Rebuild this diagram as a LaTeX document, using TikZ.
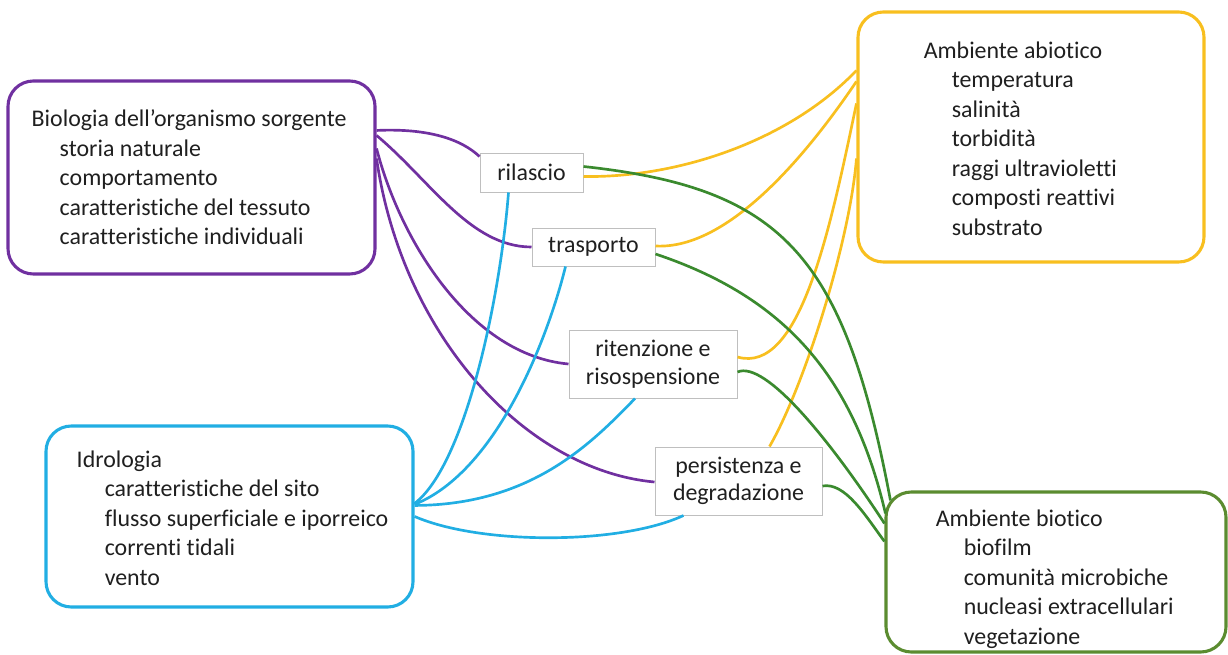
\documentclass[tikz,border=0pt]{standalone}
\usepackage{fontspec}
\setmainfont{Carlito}[Ligatures={TeX,NoCommon}]
\usepackage{xcolor}
\usepackage{tikz}
\usetikzlibrary{positioning,calc}

\definecolor{bioviola}{HTML}{7030A0}
\definecolor{idroblu}{HTML}{21AEE3}
\definecolor{abiogiallo}{HTML}{F8BF1F}
\definecolor{biotverde}{HTML}{5B8C30}
\definecolor{lineaverde}{HTML}{3A8A2E}
\newcommand{\pxu}{0.025cm}

\begin{document}
\begin{tikzpicture}[x=0.025cm, y=-0.025cm,
    every node/.style={font=\fontsize{17}{21}\selectfont, text=black!88},
    areabox/.style={draw=#1, line width=2.2pt, rounded corners=18pt},
    fasebox/.style={draw=black!25, line width=0.7pt, align=center, inner sep=0pt,
        font=\fontsize{17}{19.5}\selectfont},
    elenco/.style={align=left, inner sep=0pt},
    link/.style={draw=#1, line width=1.9pt}]
    \useasboundingbox (0,0) rectangle (1228,655);

    % the four areas
    \node[areabox=bioviola, minimum width=367*\pxu, minimum height=193*\pxu] (bio) at (191.5,177.5) {};
    \node[areabox=idroblu, minimum width=367*\pxu, minimum height=181*\pxu] (hyd) at (229.5,516.5) {};
    \node[areabox=abiogiallo, minimum width=346*\pxu, minimum height=250*\pxu] (abio) at (1031,137) {};
    \node[areabox=biotverde, minimum width=340*\pxu, minimum height=160*\pxu] (biot) at (1056,572) {};

    \node[elenco, right=0.625cm of bio.west] (biotxt) {Biologia dell’organismo sorgente\\
        \hspace*{0.7cm}storia naturale\\ \hspace*{0.7cm}comportamento\\
        \hspace*{0.7cm}caratteristiche del tessuto\\ \hspace*{0.7cm}caratteristiche individuali};
    \node[elenco, right=0.8cm of hyd.west, yshift=-1pt] (hydtxt) {Idrologia\\
        \hspace*{0.7cm}caratteristiche del sito\\ \hspace*{0.7cm}flusso superficiale e iporreico\\
        \hspace*{0.7cm}correnti tidali\\ \hspace*{0.7cm}vento};
    \node[elenco, right=1.675cm of abio.west, yshift=-1pt] (abiotxt) {Ambiente abiotico\\
        \hspace*{0.7cm}temperatura\\ \hspace*{0.7cm}salinità\\ \hspace*{0.7cm}torbidità\\
        \hspace*{0.7cm}raggi ultravioletti\\ \hspace*{0.7cm}composti reattivi\\ \hspace*{0.7cm}substrato};
    \node[elenco, right=1.275cm of biot.west, yshift=-5pt] (biottxt) {Ambiente biotico\\
        \hspace*{0.7cm}biofilm\\ \hspace*{0.7cm}comunità microbiche\\
        \hspace*{0.7cm}nucleasi extracellulari\\ \hspace*{0.7cm}vegetazione};

    % processes
    \node[fasebox, minimum width=103*\pxu, minimum height=39*\pxu] (ril) at (531.5,172.5) {rilascio};
    \node[fasebox, minimum width=123*\pxu, minimum height=38*\pxu] (tra) at (593.5,247) {trasporto};
    \node[fasebox, minimum width=168*\pxu, minimum height=68*\pxu] (rit) at (653,364) {ritenzione e\\risospensione};
    \node[fasebox, minimum width=167*\pxu, minimum height=68*\pxu] (per) at (738.5,481) {persistenza e\\degradazione};

    % biologia
    \draw[link=bioviola] ($(bio.north east)+(0,51)$) .. controls (430,128) and (462,140) .. ($(ril.north west)+(0,4)$);
    \draw[link=bioviola] ($(bio.north east)+(0,56)$) .. controls (430,180) and (470,247) .. (tra.west);
    \draw[link=bioviola] ($(bio.north east)+(0,69)$) .. controls (400,240) and (470,355) .. (rit.west);
    \draw[link=bioviola] ($(bio.north east)+(0,79)$) .. controls (402,335) and (525,470) .. ($(per.west)+(0,1)$);

    % idrologia
    \draw[link=idroblu] ($(hyd.north east)+(0,79)$) .. controls (465,465) and (500,300) .. ($(ril.south)+(-23,0)$);
    \draw[link=idroblu] ($(hyd.north east)+(0,80)$) .. controls (500,470) and (550,330) .. ($(tra.south)+(-28,0)$);
    \draw[link=idroblu] ($(hyd.north east)+(0,81)$) .. controls (530,505) and (590,445) .. ($(rit.south)+(-18,0)$);
    \draw[link=idroblu] ($(hyd.north east)+(0,92)$) .. controls (480,545) and (620,545) .. ($(per.south)+(-55,0)$);

    % ambiente abiotico
    \draw[link=abiogiallo] ($(abio.north west)+(0,60)$) .. controls (790,140) and (680,178) .. ($(ril.east)+(0,4)$);
    \draw[link=abiogiallo] ($(abio.north west)+(0,71)$) .. controls (810,150) and (730,250) .. ($(tra.east)+(0,-1)$);
    \draw[link=abiogiallo] ($(rit.east)+(0,-7)$) .. controls (800,375) and (830,230) .. ($(abio.north west)+(0,93)$);
    \draw[link=abiogiallo] ($(per.north)+(31,0)$) .. controls (805,385) and (850,240) .. ($(abio.north west)+(0,148)$);

    % ambiente biotico
    \draw[link=lineaverde] ($(ril.east)+(0,-6)$) .. controls (782,188) and (844,254) .. ($(biot.north west)+(6,10)$);
    \draw[link=lineaverde] ($(tra.east)+(0,7)$) .. controls (784,297) and (853,375) .. ($(biot.north west)+(1,23)$);
    \draw[link=lineaverde] ($(rit.east)+(0,8)$) .. controls (765,360) and (830,440) .. ($(biot.north west)+(0,33)$);
    \draw[link=lineaverde] ($(per.east)+(0,5)$) .. controls (845,482) and (865,515) .. ($(biot.north west)+(0,51)$);
\end{tikzpicture}
\end{document}
